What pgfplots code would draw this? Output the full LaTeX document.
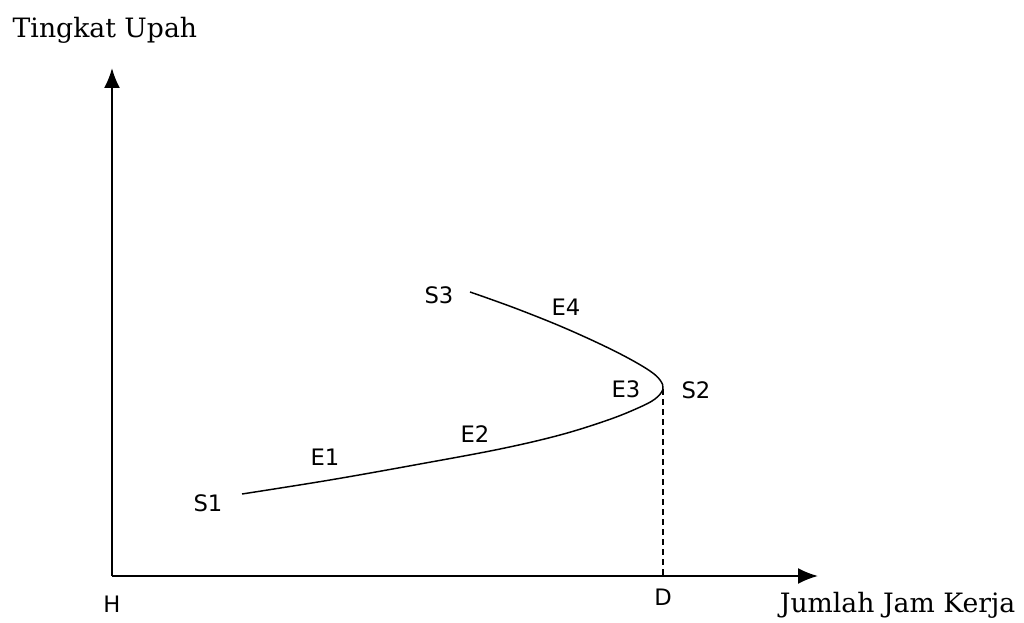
\documentclass[border=0pt]{standalone}
\usepackage{pgfplots}
\pgfplotsset{compat=1.18}
\usepackage{fontspec}
\setmainfont{DejaVu Serif}
\newfontfamily\lbl{DejaVu Sans}
\usetikzlibrary{arrows.meta}

% pixel-like coordinates: x = px, y = 617 - py
\begin{document}
\begin{tikzpicture}
\begin{axis}[
    scale only axis,
    width=529.5pt, height=381pt,
    xmin=112, xmax=818, ymin=41, ymax=549,
    axis lines=left,
    axis line style={line width=1.5pt},
    x axis line style={-{Latex[length=15pt,width=12pt]}},
    y axis line style={-{Latex[length=15pt,width=12pt]}},
    xtick=\empty, ytick=\empty,
    clip=false,
]
% backward-bending supply curve
\addplot[smooth, tension=0.6, line width=1.1pt, black] coordinates {
 (242,123) (330,137) (420,153) (500,168) (560,182) (608,197) (638,209)
 (655,218) (663,228) (660,237) (650,246) (628,259) (598,274) (560,291)
 (520,307) (490,318) (470,325)
};
% dashed drop line
\addplot[dash pattern=on 4.5pt off 3pt, line width=0.8pt, black] coordinates {(663,228) (663,41)};

% labels
\path (axis cs:0,0) (axis cs:1024,617);
\node[anchor=west, font=\fontsize{20}{22}\selectfont] at (axis cs:8,587) {Tingkat Upah};
\node[anchor=east, font=\fontsize{20}{22}\selectfont] at (axis cs:1020,12) {Jumlah Jam Kerja};
\begin{scope}[every node/.style={font=\lbl\fontsize{17}{19}\selectfont}]
\node at (axis cs:112,13) {H};
\node at (axis cs:663,20) {D};
\node at (axis cs:208,114) {S1};
\node at (axis cs:325,160) {E1};
\node at (axis cs:475,183) {E2};
\node at (axis cs:626,228) {E3};
\node at (axis cs:696,227) {S2};
\node at (axis cs:439,322) {S3};
\node at (axis cs:566,310) {E4};
\end{scope}
\end{axis}
\end{tikzpicture}
\end{document}
